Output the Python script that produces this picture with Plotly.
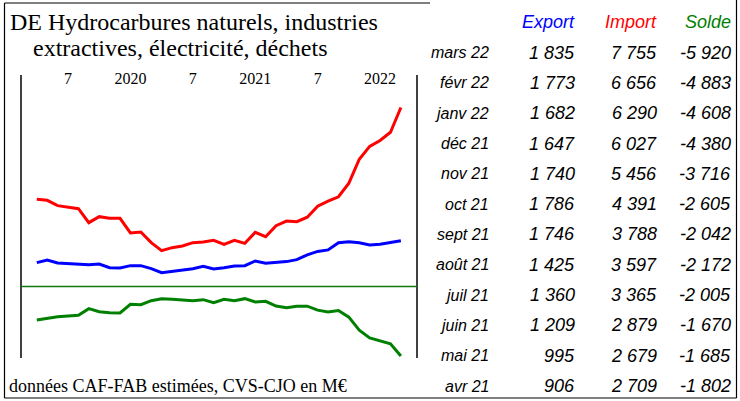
import plotly.graph_objects as go

# ---- data (millions of euros), April 2019 .. March 2022 ----
months = [f"{y}-{m:02d}" for y in (2019, 2020, 2021, 2022) for m in range(1, 13)]
months = months[months.index("2019-04"):months.index("2022-03") + 1]

export_vals = [859, 978, 844, 830, 815, 770, 800, 637, 622, 726, 726, 593,
               415, 474, 533, 593, 696, 578, 637, 711, 726, 933, 830, 874,
               906, 995, 1209, 1360, 1425, 1746, 1786, 1740, 1647, 1682, 1773, 1835]
import_vals = [3675, 3631, 3393, 3319, 3259, 2637, 2904, 2830, 2830, 2178, 2222, 1748,
               1393, 1526, 1600, 1748, 1778, 1852, 1674, 1852, 1719, 2207, 2015, 2504,
               2709, 2679, 2879, 3365, 3597, 3788, 4391, 5456, 6027, 6290, 6656, 7755]
solde_vals = [-2847, -2677, -2563, -2506, -2450, -1881, -2137, -2222, -2251, -1512, -1540, -1199,
              -1029, -1086, -1114, -1199, -1114, -1370, -1086, -1199, -1029, -1313, -1256, -1654,
              -1802, -1685, -1670, -2005, -2172, -2042, -2605, -3716, -4380, -4608, -4883, -5920]

table_months = ["avr 21", "mai 21", "juin 21", "juil 21", "août 21", "sept 21",
                "oct 21", "nov 21", "déc 21", "janv 22", "févr 22", "mars 22"]

tick_vals = ["2019-07", "2020-01", "2020-07", "2021-01", "2021-07", "2022-01"]
tick_text = ["7", "2020", "7", "2021", "7", "2022"]

title_lines = ["DE Hydrocarbures naturels, industries", "extractives, électricité, déchets"]
source_text = "données CAF-FAB estimées, CVS-CJO en M€"

# ---- layout geometry (pixels) ----
W_FIG, H_FIG = 740, 401
L, T, R, B = 21, 88, 417, 358
PW, PH = R - L, B - T


def px(x):
    return (x - L) / PW


def py(y):
    return (B - y) / PH


SERIF = "Liberation Serif"
SANS = "Liberation Sans"

fig = go.Figure()
fig.add_trace(go.Scatter(x=months, y=import_vals, mode="lines", name="Import",
                         line=dict(color="#ff0000", width=3), yaxis="y"))
fig.add_trace(go.Scatter(x=months, y=export_vals, mode="lines", name="Export",
                         line=dict(color="#0000ff", width=3), yaxis="y"))
fig.add_trace(go.Scatter(x=months, y=solde_vals, mode="lines", name="Solde",
                         line=dict(color="#008000", width=3), yaxis="y2"))

fig.update_layout(
    width=W_FIG, height=H_FIG,
    margin=dict(l=L, r=W_FIG - R, t=T, b=H_FIG - B, pad=0),
    paper_bgcolor="white", plot_bgcolor="white",
    showlegend=False,
    xaxis=dict(type="category", categoryorder="array", categoryarray=months,
               range=[-1.52, 36.55], showgrid=False, zeroline=False, showline=False,
               side="top", tickmode="array", tickvals=tick_vals, ticktext=tick_text,
               ticks="", tickfont=dict(family=SERIF, size=16, color="black")),
    yaxis=dict(range=[-3378, 8622], visible=False, showgrid=False, zeroline=False),
    yaxis2=dict(range=[-6087, 16931], overlaying="y", visible=False,
                showgrid=False, zeroline=False),
)

shapes = []
# plot frame verticals
for xv in (0, 1):
    shapes.append(dict(type="line", xref="paper", yref="paper", x0=xv, x1=xv,
                       y0=0, y1=py(75), line=dict(color="black", width=1.5)))
# zero line of balance
shapes.append(dict(type="line", xref="paper", yref="y2", x0=0, x1=1, y0=0, y1=0,
                   line=dict(color="#107a10", width=1.5)))
# outer frame
frame = dict(color="black", width=1.2)
shapes.append(dict(type="line", xref="paper", yref="paper", x0=px(4.5), x1=px(4.5),
                   y0=py(3), y1=py(398), line=frame))
shapes.append(dict(type="line", xref="paper", yref="paper", x0=px(4.5), x1=px(430),
                   y0=py(3), y1=py(3), line=frame))
shapes.append(dict(type="line", xref="paper", yref="paper", x0=px(736.5), x1=px(736.5),
                   y0=py(0), y1=py(398), line=frame))
shapes.append(dict(type="line", xref="paper", yref="paper", x0=px(4.5), x1=px(736.5),
                   y0=py(398), y1=py(398), line=frame))
fig.update_layout(shapes=shapes)

ann = []
ann.append(dict(text=title_lines[0], x=px(8), y=py(21.5), xanchor="left", yanchor="middle",
                font=dict(family=SERIF, size=24, color="black")))
ann.append(dict(text=title_lines[1], x=px(31), y=py(48.5), xanchor="left", yanchor="middle",
                font=dict(family=SERIF, size=24, color="black")))
ann.append(dict(text=source_text, x=px(7), y=py(386), xanchor="left", yanchor="middle",
                font=dict(family=SERIF, size=18, color="black")))

# table header
col_x = {"month": 491, "export": 577, "import": 659, "solde": 733}
for key, label, color in (("export", "Export", "#0000ff"),
                          ("import", "Import", "#ff0000"),
                          ("solde", "Solde", "#008000")):
    ann.append(dict(text=f"<i>{label}</i>", x=px(col_x[key]), y=py(22),
                    xanchor="right", yanchor="middle",
                    font=dict(family=SANS, size=18, color=color)))


def fmt(v):
    return f"{v:,}".replace(",", " ")


n = len(table_months)
for k in range(n):
    idx = len(months) - 1 - k
    yk = 52.7 + k * 30.3
    ann.append(dict(text=f"<i>{table_months[n - 1 - k]}</i>", x=px(col_x["month"]), y=py(yk),
                    xanchor="right", yanchor="middle",
                    font=dict(family=SANS, size=16, color="black")))
    for key, vals in (("export", export_vals), ("import", import_vals), ("solde", solde_vals)):
        ann.append(dict(text=f"<i>{fmt(vals[idx])}</i>", x=px(col_x[key]), y=py(yk),
                        xanchor="right", yanchor="middle",
                        font=dict(family=SANS, size=18, color="black")))

for a in ann:
    a.update(xref="paper", yref="paper", showarrow=False)
fig.update_layout(annotations=ann)

fig.write_html("out.html", config={"displayModeBar": False},
               post_script="document.body.style.margin='0';")
